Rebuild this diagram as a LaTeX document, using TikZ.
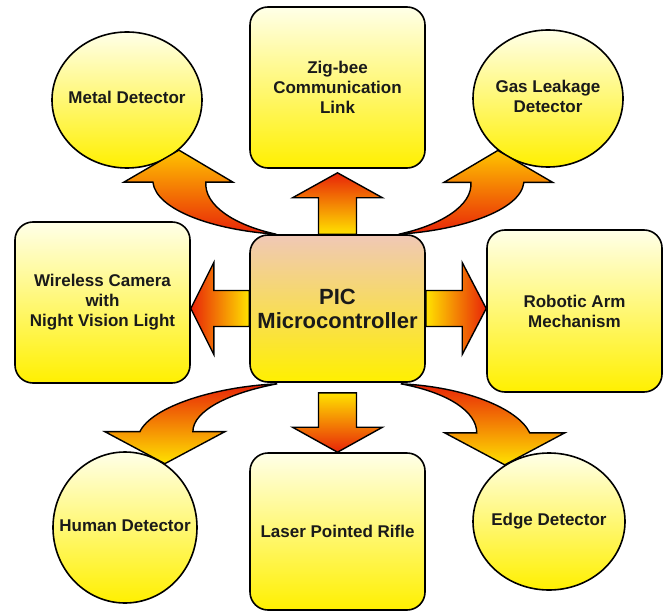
\documentclass[tikz,border=0pt]{standalone}
\usepackage{fontspec}
\setmainfont{Liberation Sans}
\usepackage{tikz}
\usetikzlibrary{calc,shapes.geometric}

\definecolor{BoxTop}{RGB}{255,255,232}
\definecolor{BoxBottom}{RGB}{255,240,0}
\definecolor{PicTop}{RGB}{240,200,182}
\definecolor{ArrowRed}{RGB}{232,36,8}
\definecolor{ArrowYellow}{RGB}{255,226,0}
\definecolor{ArrowOrange}{RGB}{255,196,0}
\definecolor{Ink}{RGB}{26,26,26}

\newcommand{\ringtext}[1]{\makebox[0pt]{\begin{tabular}{@{}c@{}}#1\end{tabular}}}

\begin{document}
\begin{tikzpicture}[x=1pt, y=-1pt,
  font=\bfseries\fontsize{17}{20}\selectfont, text=Ink,
  unit/.style={draw=black, line width=1.6pt, rounded corners=18pt, top color=BoxTop, bottom color=BoxBottom, minimum width=175pt, inner sep=0pt, align=center},
  sensor/.style={ellipse, draw=black, line width=1.6pt, top color=BoxTop, bottom color=BoxBottom, inner sep=0pt},
  feed/.style={draw=black, line width=1.4pt}]
\useasboundingbox (0,0) rectangle (668,612);

\node[unit, minimum height=147pt, top color=PicTop, font=\bfseries\fontsize{22}{24}\selectfont] (pic) at (337.5,308.5) {PIC\\Microcontroller};
\node[unit, minimum height=161pt] (zig) at (337.5,87.5) {Zig-bee\\Communication\\Link};
\node[unit, minimum height=161pt] (cam) at (102.5,302.5) {Wireless Camera\\with\\Night Vision Light};
\node[unit, minimum height=162pt] (arm) at (574.5,311) {Robotic Arm\\Mechanism};
\node[unit, minimum height=157pt] (rifle) at (337.5,531.5) {Laser Pointed Rifle};

\node[sensor, minimum width=150pt, minimum height=136pt] (metal) at (127,100) {\ringtext{Metal Detector}};
\node[sensor, minimum width=150pt, minimum height=137pt] (gas) at (548,98.5) {\ringtext{Gas Leakage\\Detector}};
\node[sensor, minimum width=144pt, minimum height=151pt] (human) at (125,527.5) {\ringtext{Human Detector}};
\node[sensor, minimum width=152pt, minimum height=137pt] (edge) at (549,521.5) {\ringtext{Edge Detector}};

\coordinate (camtip) at (pic.west -| cam.east);
\coordinate (armtip) at (pic.east -| arm.west);

\draw[feed, top color=ArrowRed, bottom color=ArrowYellow]
  ($(pic.north)+(-19,0)$) -- ($(zig.south)+(-19,29)$) -- ++(-26,0) -- ($(zig.south)+(0,4)$)
  -- ($(zig.south)+(45,29)$) -- ++(-26,0) -- ($(pic.north)+(19,0)$) -- cycle;
\draw[feed, top color=ArrowYellow, bottom color=ArrowRed]
  ($(pic.south)+(-19,10)$) -- ($(rifle.north)+(-19,-25)$) -- ++(-26,0) -- (rifle.north)
  -- ($(rifle.north)+(45,-25)$) -- ++(-26,0) -- ($(pic.south)+(19,10)$) -- cycle;
\draw[feed, left color=ArrowRed, right color=ArrowYellow]
  ($(pic.west)+(0,-18)$) -- ($(camtip)+(23,-18)$) -- ++(0,-28) -- (camtip)
  -- ($(camtip)+(23,46)$) -- ++(0,-28) -- ($(pic.west)+(0,18)$) -- cycle;
\draw[feed, left color=ArrowYellow, right color=ArrowRed]
  ($(pic.east)+(0,-18)$) -- ($(armtip)+(-24,-18)$) -- ++(0,-28) -- (armtip)
  -- ($(armtip)+(-24,46)$) -- ++(0,-28) -- ($(pic.east)+(0,18)$) -- cycle;

\coordinate (t1) at ($(pic.north west)+(27,0)$);
\coordinate (t2) at ($(pic.north east)+(-27,0)$);
\coordinate (t3) at ($(pic.south west)+(28,1)$);
\coordinate (t4) at ($(pic.south east)+(-25,1)$);

\draw[feed, top color=ArrowOrange, bottom color=ArrowRed]
  (t1) .. controls +(-62,-4) and +(3,28) .. ($(metal.-44)+(-26,32)$)
  -- ++(-29,0) -- (metal.-44) -- ++(54,32) -- ++(-27,0)
  .. controls +(-2,23) and +(-42,-9) .. (t1) -- cycle;
\draw[feed, top color=ArrowOrange, bottom color=ArrowRed]
  (t2) .. controls +(62,-4) and +(-3,28) .. ($(gas.-134)+(26,32)$)
  -- ++(29,0) -- (gas.-134) -- ++(-54,32) -- ++(27,0)
  .. controls +(2,23) and +(42,-9) .. (t2) -- cycle;
\draw[feed, top color=ArrowRed, bottom color=ArrowYellow]
  (t3) .. controls +(-63,3) and +(12,-25) .. ($(human.58)+(-25,-32)$)
  -- ++(-35,0) -- (human.58) -- ++(60,-32) -- ++(-32,0)
  .. controls +(0,-21) and +(-48,9) .. (t3) -- cycle;
\draw[feed, top color=ArrowRed, bottom color=ArrowYellow]
  (t4) .. controls +(63,3) and +(-12,-25) .. ($(edge.128)+(25,-32)$)
  -- ++(35,0) -- (edge.128) -- ++(-60,-32) -- ++(32,0)
  .. controls +(0,-21) and +(48,9) .. (t4) -- cycle;
\end{tikzpicture}
\end{document}
